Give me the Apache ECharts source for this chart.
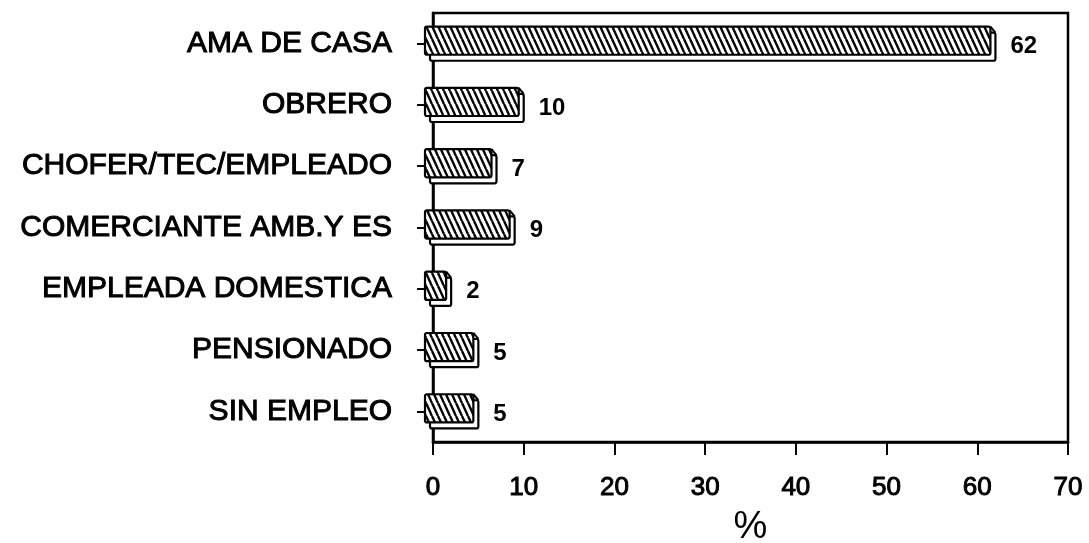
<!DOCTYPE html>
<html>
<head>
<meta charset="utf-8">
<script src="https://cdn.jsdelivr.net/npm/echarts@6/dist/echarts.min.js"></script>
<style>
  html, body { margin: 0; padding: 0; background: #fff; }
  #chart { width: 1089px; height: 543px; }
</style>
</head>
<body>
<div id="chart"></div>
<script>
// Occupation categories (top to bottom) and their percentages
const categories = [
  'AMA DE CASA',
  'OBRERO',
  'CHOFER/TEC/EMPLEADO',
  'COMERCIANTE AMB.Y ES',
  'EMPLEADA DOMESTICA',
  'PENSIONADO',
  'SIN EMPLEO'
];
const percentages = [62, 10, 7, 9, 2, 5, 5];
const axisTicks = [0, 10, 20, 30, 40, 50, 60, 70];

const FONT = '"Liberation Sans", Arial, sans-serif';

// Diagonal hatch tile used to fill the bar faces
function makeHatch() {
  const c = document.createElement('canvas');
  const w = 6, h = 13;
  c.width = w; c.height = h;
  const ctx = c.getContext('2d');
  ctx.fillStyle = '#fff';
  ctx.fillRect(0, 0, w, h);
  ctx.strokeStyle = '#000';
  ctx.lineWidth = 2.4;
  for (let k = -1; k <= 1; k++) {
    ctx.beginPath();
    ctx.moveTo(k * w, 0);
    ctx.lineTo(k * w + w, h);
    ctx.stroke();
  }
  return c;
}
const hatch = makeHatch();

const seriesData = percentages.map((v, i) => [v, i]);

// Pseudo-3D bar: a white depth slab behind a hatched front face
function renderBar(params, api) {
  const v = api.value(0);
  const idx = api.value(1);
  const p0 = api.coord([0, idx]);
  const p1 = api.coord([v, idx]);
  const band = api.size([0, 1])[1];
  const dx = 5, dy = 6;
  const h = band * 0.46;
  const yTop = p0[1] - (h + dy) / 2;
  const xL = p0[0] - 8;
  const xR = p1[0] - dx;
  const w = Math.max(xR - xL, 4);
  return {
    type: 'group',
    children: [
      {
        type: 'rect',
        shape: { x: xL + dx, y: yTop + dy, width: w, height: h, r: 2 },
        style: { fill: '#fff', stroke: '#000', lineWidth: 2.2 }
      },
      {
        type: 'line',
        shape: { x1: xL + w, y1: yTop, x2: xL + w + dx, y2: yTop + dy },
        style: { stroke: '#000', lineWidth: 2 }
      },
      {
        type: 'rect',
        shape: { x: xL, y: yTop, width: w, height: h, r: 2 },
        style: { fill: { image: hatch, repeat: 'repeat' }, stroke: '#000', lineWidth: 2.2 }
      },
      {
        type: 'text',
        x: p1[0] + 15,
        y: p0[1] + 3,
        style: {
          text: String(v),
          fill: '#000',
          font: 'bold 24px ' + FONT,
          textAlign: 'left',
          textVerticalAlign: 'middle'
        }
      }
    ]
  };
}

const chart = echarts.init(document.getElementById('chart'), null, { renderer: 'canvas' });
chart.setOption({
  backgroundColor: '#fff',
  animation: false,
  grid: {
    left: 433, right: 21, top: 13, bottom: 101,
    containLabel: false,
    outerBoundsMode: 'none',
    show: true, borderColor: '#000', borderWidth: 2.5, backgroundColor: '#fff'
  },
  xAxis: {
    type: 'value',
    min: axisTicks[0],
    max: axisTicks[axisTicks.length - 1],
    interval: 10,
    name: '%',
    nameLocation: 'middle',
    nameGap: 67,
    nameTextStyle: { color: '#000', fontSize: 38, fontFamily: FONT },
    axisLine: { show: true, lineStyle: { color: '#000', width: 2.5 } },
    axisTick: { show: true, inside: false, length: 13, lineStyle: { color: '#000', width: 2 } },
    axisLabel: {
      color: '#000', fontSize: 26, fontFamily: FONT, margin: 33,
      textBorderColor: '#000', textBorderWidth: 1
    },
    splitLine: { show: false }
  },
  yAxis: {
    type: 'category',
    data: categories,
    inverse: true,
    axisLine: { show: true, lineStyle: { color: '#000', width: 2.5 } },
    axisTick: { show: true, inside: false, alignWithLabel: true, length: 16, lineStyle: { color: '#000', width: 2 } },
    axisLabel: {
      color: '#000', fontSize: 30, fontFamily: FONT, margin: 41,
      textBorderColor: '#000', textBorderWidth: 1
    },
    splitLine: { show: false }
  },
  series: [{
    type: 'custom',
    renderItem: renderBar,
    encode: { x: 0, y: 1 },
    data: seriesData,
    clip: false
  }]
});
</script>
</body>
</html>
